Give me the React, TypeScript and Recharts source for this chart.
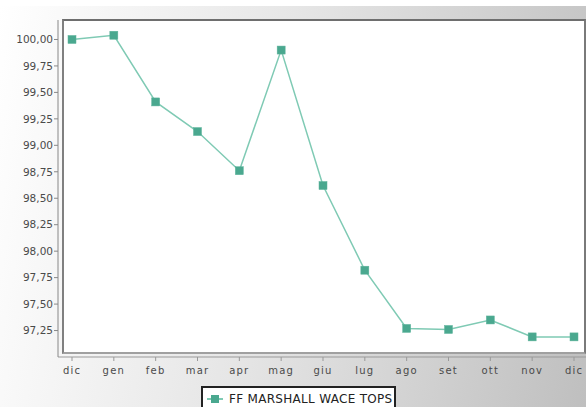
import React from "react";
import { LineChart, Line, XAxis, YAxis } from "recharts";

const months = ["dic", "gen", "feb", "mar", "apr", "mag", "giu", "lug", "ago", "set", "ott", "nov", "dic"];
const values = [100.0, 100.04, 99.41, 99.13, 98.76, 99.9, 98.62, 97.82, 97.27, 97.26, 97.35, 97.19, 97.19];
const yTicks = [97.25, 97.5, 97.75, 98.0, 98.25, 98.5, 98.75, 99.0, 99.25, 99.5, 99.75, 100.0];
const seriesName = "FF MARSHALL WACE TOPS";

const data = months.map((m, i) => ({ month: m, value: values[i] }));

const W = 586;
const H = 407;
const LINE = "#7fcab4";
const MARKER = "#4aa88f";

const fmt = (v: number) => v.toFixed(2).replace(".", ",");

function SquareDot(props: any) {
  const { cx, cy, index } = props;
  if (cx == null || cy == null) return null;
  return <rect key={index} x={cx - 4} y={cy - 4} width={8} height={8} fill={MARKER} stroke="#5db39b" strokeWidth={0.5} />;
}

export default function App() {
  return (
    <div style={{ position: "absolute", left: 0, top: 0, width: W, height: H, overflow: "hidden", background: "#fff" }}>
      <div
        style={{
          position: "absolute",
          left: 0,
          top: 6,
          width: W,
          height: H - 6,
          background: "linear-gradient(100deg, #ffffff 0%, #e6e6e6 45%, #bfbfbf 100%)",
        }}
      />
      {/* plot frame */}
      <div
        style={{
          position: "absolute",
          left: 62,
          top: 19,
          width: 520,
          height: 331,
          background: "#fff",
          borderLeft: "2px solid #808080",
          borderTop: "2px solid #6e6e6e",
          borderRight: "2px solid #7a7a7a",
          borderBottom: "2px solid #a0a0a0",
        }}
      />
      <div style={{ position: "absolute", left: 0, top: 0 }}>
        <LineChart width={W} height={H} data={data} margin={{ top: 20, right: 0, left: 0, bottom: 24 }}>
          <XAxis
            dataKey="month"
            height={26}
            padding={{ left: 14, right: 12 }}
            axisLine={{ stroke: "#999" }}
            tickLine={{ stroke: "#999" }}
            tickSize={4}
            tickMargin={6}
            tick={{ fontSize: 10, fill: "#4a4a4a", fontFamily: "DejaVu Sans", letterSpacing: 1.2 }}
            interval={0}
          />
          <YAxis
            width={58}
            domain={[97.0, 100.184]}
            ticks={yTicks}
            tickFormatter={fmt}
            axisLine={{ stroke: "#888" }}
            tickLine={{ stroke: "#888" }}
            tickSize={4}
            tickMargin={1}
            tick={{ fontSize: 10.5, fill: "#4a4a4a", fontFamily: "DejaVu Sans" }}
            allowDataOverflow
          />
          <Line
            type="linear"
            dataKey="value"
            name={seriesName}
            stroke={LINE}
            strokeWidth={1.5}
            dot={<SquareDot />}
            activeDot={false}
            isAnimationActive={false}
          />
        </LineChart>
      </div>
      {/* legend */}
      <div
        style={{
          position: "absolute",
          left: 201,
          top: 386,
          width: 195,
          height: 26,
          background: "#fff",
          border: "2px solid #222",
          display: "flex",
          alignItems: "flex-start",
          paddingTop: 3,
          boxSizing: "border-box",
        }}
      >
        <svg width={22} height={14} style={{ marginLeft: 3, marginTop: 1 }}>
          <line x1={1} y1={7} x2={17} y2={7} stroke={LINE} strokeWidth={2} />
          <rect x={5} y={3} width={8} height={8} fill={MARKER} />
        </svg>
        <span style={{ fontFamily: "DejaVu Sans", fontSize: 12, letterSpacing: 0.3, color: "#222", marginLeft: 1, lineHeight: "16px" }}>
          {seriesName}
        </span>
      </div>
    </div>
  );
}
